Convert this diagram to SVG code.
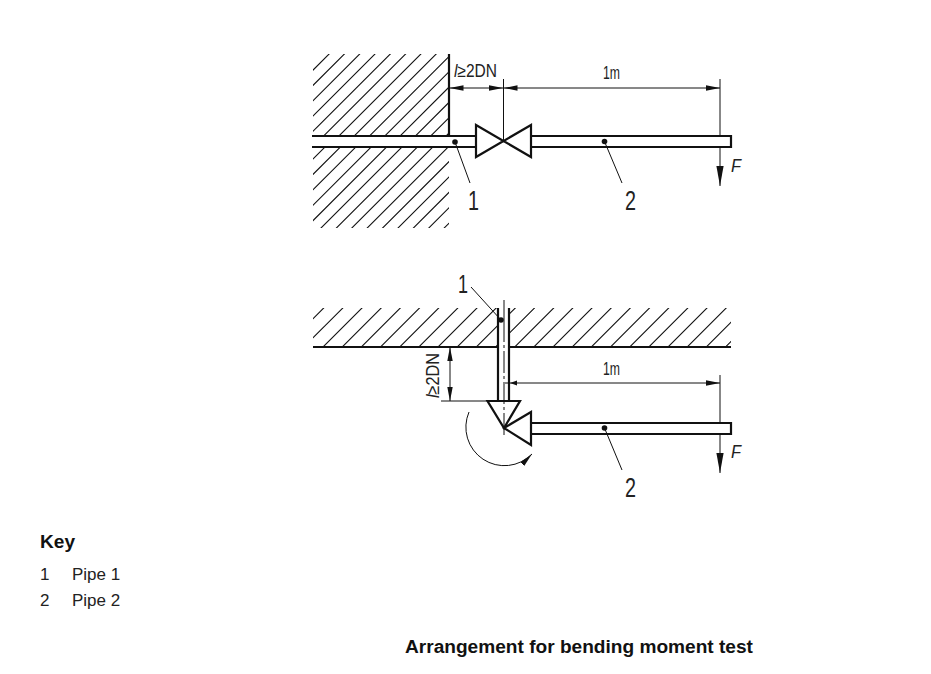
<svg xmlns="http://www.w3.org/2000/svg" width="931" height="674" viewBox="0 0 931 674">
<style>
.thick{fill:none;stroke:#111;stroke-width:2.2}
.thin{fill:none;stroke:#111;stroke-width:1}
.hatch{fill:none;stroke:#111;stroke-width:1.1}
.shape{fill:#fff;stroke:#111;stroke-width:2.2;stroke-linejoin:miter}
.dot{fill:#111}
.d{font-family:"Liberation Sans",Arial,sans-serif;fill:#222}
.big{font-size:28px}
.mid{font-size:18px}
.it{font-style:italic}
.key{font-family:"Liberation Sans",Arial,sans-serif;font-size:17px;fill:#222}
.bold{font-family:"Liberation Sans",Arial,sans-serif;font-weight:bold;fill:#111;font-size:19.100px}
</style>
<defs>
<marker id="ah" markerUnits="userSpaceOnUse" markerWidth="15" markerHeight="7" refX="14" refY="3" orient="auto-start-reverse"><path d="M0 .3L14 3L0 5.700Z" fill="#111"/></marker>
<marker id="fh" markerUnits="userSpaceOnUse" markerWidth="20" markerHeight="8" refX="20" refY="4" orient="auto"><path d="M0 .4L20 4L0 7.600Z" fill="#111"/></marker>
<clipPath id="c1"><rect x="313" y="54" width="136" height="82"/></clipPath>
<clipPath id="c2"><rect x="313" y="147" width="136" height="81"/></clipPath>
<clipPath id="c3"><path d="M313 308H498V347H313ZM510 308H731V347H510Z"/></clipPath>
</defs>
<g id="hatching">
<path class="hatch" clip-path="url(#c1)" d="M582 0L182 400M566.700 0L166.700 400M551.400 0L151.400 400M536.100 0L136.100 400M520.800 0L120.800 400M505.500 0L105.500 400M490.200 0L90.200 400M474.900 0L74.900 400M459.600 0L59.600 400M444.300 0L44.300 400M429 0L29 400M413.700 0L13.700 400M398.400 0L-1.600 400M383.100 0L-16.900 400"/>
<path class="hatch" clip-path="url(#c2)" d="M472 0L-28 500M487.400 0L-12.600 500M502.800 0L2.800 500M518.200 0L18.200 500M533.600 0L33.600 500M549 0L49 500M564.400 0L64.400 500M579.800 0L79.800 500M595.200 0L95.200 500M610.600 0L110.600 500M626 0L126 500M641.400 0L141.400 500M656.800 0L156.800 500M672.200 0L172.200 500"/>
<path class="hatch" clip-path="url(#c3)" d="M631.700 0L131.700 500M650.800 0L150.800 500M670 0L170 500M689.200 0L189.200 500M708.300 0L208.300 500M727.500 0L227.500 500M746.700 0L246.700 500M765.800 0L265.800 500M785 0L285 500M804.200 0L304.200 500M823.300 0L323.300 500M842.500 0L342.500 500M861.700 0L361.700 500M880.800 0L380.800 500M900 0L400 500M919.200 0L419.200 500M938.300 0L438.300 500M957.500 0L457.500 500M976.700 0L476.700 500M995.800 0L495.800 500M1015 0L515 500M1034.200 0L534.200 500M1053.300 0L553.300 500M1072.500 0L572.500 500"/>
</g>
<g id="wall-top"><path class="thick" d="M449 54V136"/></g>
<g id="wall-bottom"><path class="thick" d="M313 347H498M510 347H731"/></g>
<g id="pipe-1-top"><path class="thick" d="M312 136H476M312 147H476"/></g>
<g id="pipe-2-top"><path class="thick" d="M531 136H731V147H531"/></g>
<g id="valve-top"><path class="shape" d="M476 125L503.500 141L476 157ZM531 125L503.500 141L531 157Z"/></g>
<g id="pipe-1-bottom"><path class="thick" d="M498 308V401M509 308V401"/></g>
<g id="pipe-2-bottom"><path class="thick" d="M531 423H731V434H531"/></g>
<g id="valve-bottom"><path class="shape" d="M487.500 401H520L504 428ZM531 412L504 428L531 445Z"/></g>
<g id="connectors">
<path class="thin" d="M503.500 79V141M720 79V136M720 375V423M441 401H487"/>
<path class="thin" d="M504 300V320"/>
<path class="thin" d="M504 320V437" stroke-dasharray="22 3 3 3"/>
<path class="thin" d="M449.500 88H503" marker-start="url(#ah)" marker-end="url(#ah)"/>
<path class="thin" d="M503.500 88H720" marker-start="url(#ah)" marker-end="url(#ah)"/>
<path class="thin" d="M505 383H720" marker-end="url(#ah)"/>
<path class="dot" d="M510 383L517 380.500V385.500Z"/>
<path class="thin" d="M450 347V401" marker-start="url(#ah)" marker-end="url(#ah)"/>
<path class="thin" d="M720 147V186" marker-end="url(#fh)"/>
<path class="thin" d="M720 434V473" marker-end="url(#fh)"/>
<path class="thin" d="M469 412A38.500 38.500 0 0 0 532 454" marker-end="url(#ah)"/>
<path class="thin" d="M455 142L470 183M604.500 141.500L622 183M471 287L501 320M604.500 428L622 470"/>
<circle class="dot" cx="455" cy="142" r="2.800"/>
<circle class="dot" cx="604.500" cy="141.500" r="2.800"/>
<circle class="dot" cx="501" cy="320" r="2.800"/>
<circle class="dot" cx="604.500" cy="428" r="2.800"/>
</g>
<g id="labels">
<text class="d mid" x="454" y="77" textLength="43" lengthAdjust="spacingAndGlyphs"><tspan class="it">l</tspan>≥2DN</text>
<text class="d mid" x="603" y="79" textLength="17" lengthAdjust="spacingAndGlyphs">1m</text>
<text class="d mid" x="603" y="375" textLength="17" lengthAdjust="spacingAndGlyphs">1m</text>
<text class="d mid it" x="731" y="172" textLength="10" lengthAdjust="spacingAndGlyphs">F</text>
<text class="d mid it" x="731" y="458" textLength="10" lengthAdjust="spacingAndGlyphs">F</text>
<text class="d big" x="468" y="210" textLength="11" lengthAdjust="spacingAndGlyphs">1</text>
<text class="d big" x="625" y="210" textLength="11" lengthAdjust="spacingAndGlyphs">2</text>
<text class="d big" x="625" y="497" textLength="11" lengthAdjust="spacingAndGlyphs">2</text>
<text class="d" font-size="25" x="458" y="293" textLength="10" lengthAdjust="spacingAndGlyphs">1</text>
<text class="d mid" transform="translate(439 398) rotate(-90)" textLength="45" lengthAdjust="spacingAndGlyphs"><tspan class="it">l</tspan>≥2DN</text>
</g>
<g id="key">
<text class="bold" x="40" y="548">Key</text>
<text class="key" x="40" y="580">1</text>
<text class="key" x="72" y="580">Pipe 1</text>
<text class="key" x="40" y="606">2</text>
<text class="key" x="72" y="606">Pipe 2</text>
</g>
<text class="bold" id="title" x="405" y="653">Arrangement for bending moment test</text>
</svg>
